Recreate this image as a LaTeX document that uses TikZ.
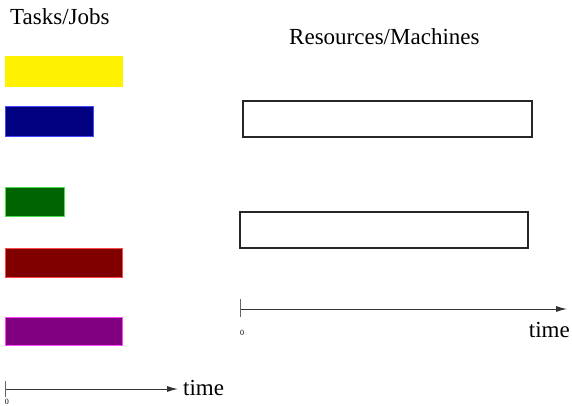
\documentclass[tikz,border=0pt]{standalone}
\usepackage{fontspec}
\setmainfont{Liberation Serif}
\usetikzlibrary{arrows.meta}
\definecolor{bluefill}{RGB}{0,0,128}
\definecolor{blueedge}{RGB}{70,70,255}
\definecolor{greenfill}{RGB}{0,100,0}
\definecolor{greenedge}{RGB}{80,220,80}
\definecolor{redfill}{RGB}{128,0,0}
\definecolor{rededge}{RGB}{255,70,70}
\definecolor{purplefill}{RGB}{128,0,128}
\definecolor{purpleedge}{RGB}{255,70,255}
\begin{document}
\begin{tikzpicture}[x=1pt,y=-1pt,
  bar/.style={draw=#1, line width=1pt, anchor=north west, inner sep=0pt, outer sep=0pt},
  mbox/.style={draw=black!85, line width=1.2pt, fill=white, anchor=north west, inner sep=0pt, outer sep=0pt},
  title/.style={font=\fontsize{23}{27}\selectfont, inner sep=0pt},
  small/.style={font=\fontsize{8}{9}\selectfont, inner sep=0pt},
  axis/.style={draw=black!80, line width=1pt, -{Latex[length=11pt,width=6pt]}},
  tick/.style={draw=black!60, line width=1pt}]
\useasboundingbox (0,0) rectangle (572,406);
% titles
\node[title, anchor=base west] (tt) at (10,25) {Tasks/Jobs};
\node[title, anchor=base west] (rt) at (289,45) {Resources/Machines};
% task bars
\node[bar=yellow, fill=yellow, minimum width=117pt, minimum height=30pt] (yb) at (5,57) {};
\node[bar=blueedge, fill=bluefill, minimum width=88pt, minimum height=30pt] (bb) at (5,107) {};
\node[bar=greenedge, fill=greenfill, minimum width=59pt, minimum height=29pt] (gb) at (5,187) {};
\node[bar=rededge, fill=redfill, minimum width=117pt, minimum height=29pt] (rb) at (5,248) {};
\node[bar=purpleedge, fill=purplefill, minimum width=117pt, minimum height=28pt] (pb) at (5,317) {};
% machine boxes
\node[mbox, minimum width=289pt, minimum height=36pt] (m1) at (243,101) {};
\node[mbox, minimum width=288pt, minimum height=36pt] (m2) at (240,212) {};
% left axis
\coordinate (lo) at (5,389);
\coordinate (le) at (178,389);
\draw[axis] (lo) -- (le);
\draw[tick] (5,381) -- (5,397);
\node[small] (l0) at (7,402) {0};
\node[title, anchor=base west] (lt) at (183,395) {time};
% right axis
\coordinate (ro) at (240,309);
\coordinate (re) at (567,309);
\draw[axis] (ro) -- (re);
\draw[tick] (240,299) -- (240,317);
\node[small] (r0) at (242,333) {0};
\node[title, anchor=base east] (rtm) at (570,337) {time};
\end{tikzpicture}
\end{document}
